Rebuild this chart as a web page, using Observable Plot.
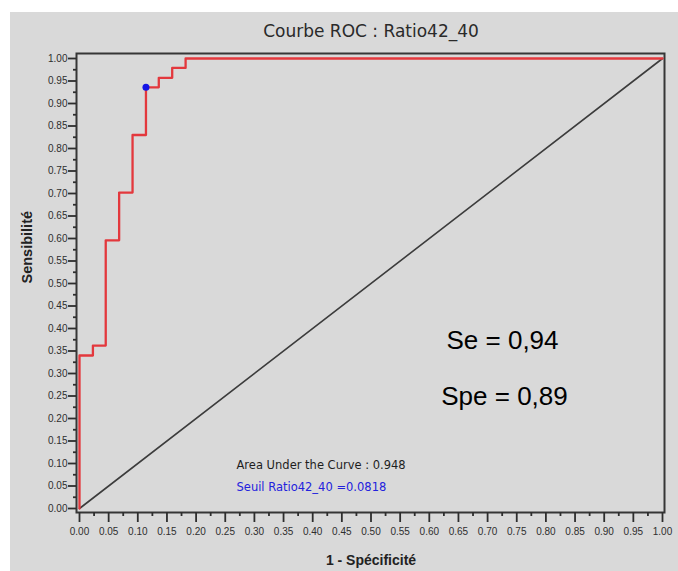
<!DOCTYPE html>
<html>
<head>
<meta charset="utf-8">
<script src="https://cdn.jsdelivr.net/npm/d3@7"></script>
<script src="https://cdn.jsdelivr.net/npm/@observablehq/plot@0.6"></script>
<style>
  html, body { margin: 0; padding: 0; background: #ffffff; }
  #bg { position: absolute; left: 10px; top: 12px; width: 668px; height: 559px; background: #d9d9d9; }
  #chart { position: absolute; left: 0; top: 0; }
</style>
</head>
<body>
<div id="bg"></div>
<div id="chart"></div>
<script>
// ROC curve points (1 - specificity, sensitivity)
const fpr = [0, 0, 0.023, 0.045, 0.068, 0.091, 0.114, 0.136, 0.159, 0.182, 1];
const tpr = [0, 0.34, 0.362, 0.596, 0.702, 0.83, 0.936, 0.957, 0.979, 1, 1];
// optimal threshold point
const optFpr = [0.114];
const optTpr = [0.936];
// chance diagonal
const diagX = [0, 1];
const diagY = [0, 1];
// tick labels
const majorTicks = [0, 0.05, 0.10, 0.15, 0.20, 0.25, 0.30, 0.35, 0.40, 0.45, 0.50,
                    0.55, 0.60, 0.65, 0.70, 0.75, 0.80, 0.85, 0.90, 0.95, 1.00];
const minorTicks = [0.025, 0.075, 0.125, 0.175, 0.225, 0.275, 0.325, 0.375, 0.425, 0.475,
                    0.525, 0.575, 0.625, 0.675, 0.725, 0.775, 0.825, 0.875, 0.925, 0.975];
// texts
const title = "Courbe ROC : Ratio42_40";
const xLabel = "1 - Spécificité";
const yLabel = "Sensibilité";
const seText = "Se = 0,94";
const speText = "Spe = 0,89";
const aucText = "Area Under the Curve : 0.948";
const seuilText = "Seuil Ratio42_40 =0.0818";

const roc = fpr.map((x, i) => ({x, y: tpr[i]}));
const opt = optFpr.map((x, i) => ({x, y: optTpr[i]}));
const diag = diagX.map((x, i) => ({x, y: diagY[i]}));
const fmt = d3.format(".2f");
const axisColor = "#2e2e2e";

const chart = Plot.plot({
  width: 678,
  height: 571,
  marginLeft: 79,
  marginRight: 16,
  marginTop: 58,
  marginBottom: 63,
  style: {background: "transparent", fontFamily: "Liberation Sans, Arial, sans-serif"},
  x: {domain: [0, 1]},
  y: {domain: [0, 1]},
  marks: [
    Plot.frame({stroke: "#363636", strokeWidth: 2, insetLeft: -3, insetRight: -2, insetTop: -5, insetBottom: -4}),
    // Y axis
    Plot.axisY({ticks: majorTicks, tickFormat: fmt, tickSize: 8, tickPadding: 1, dx: -3,
                fontSize: 10, fill: axisColor, stroke: axisColor, strokeWidth: 1.8, label: null}),
    Plot.axisY({ticks: minorTicks, tickFormat: null, text: null, tickSize: 3, dx: -3,
                stroke: axisColor, strokeWidth: 1.8, label: null}),
    // X axis
    Plot.axisX({ticks: majorTicks, tickFormat: fmt, tickSize: 10, tickPadding: 5, dy: 4,
                fontSize: 10, fill: axisColor, stroke: axisColor, strokeWidth: 1.8, label: null}),
    Plot.axisX({ticks: minorTicks, text: null, tickSize: 4, dy: 4,
                stroke: axisColor, strokeWidth: 1.8, label: null}),
    // diagonal
    Plot.line(diag, {x: "x", y: "y", stroke: "#3c3c3c", strokeWidth: 1.6}),
    // ROC curve
    Plot.line(roc, {x: "x", y: "y", curve: "step-after", stroke: "#e3383d", strokeWidth: 2.3}),
    Plot.dot(opt, {x: "x", y: "y", r: 3.5, fill: "#1414e6", stroke: "none"}),
    // title and axis labels
    Plot.text([title], {text: d => d, frameAnchor: "top", dy: -27, lineAnchor: "middle",
                        fontSize: 17, fill: "#2a2a2a", fontFamily: "DejaVu Sans, sans-serif"}),
    Plot.text([xLabel], {text: d => d, frameAnchor: "bottom", dy: 52, lineAnchor: "middle",
                         fontSize: 14, fontWeight: "bold", fill: "#222"}),
    Plot.text([yLabel], {text: d => d, frameAnchor: "left", dx: -52, rotate: -90, lineAnchor: "middle",
                         fontSize: 14.5, fontWeight: "bold", fill: "#222"}),
    // annotations
    Plot.text([seText], {text: d => d, frameAnchor: "top-left", dx: 423, dy: 282, textAnchor: "middle",
                         lineAnchor: "middle", fontSize: 26, fill: "#000"}),
    Plot.text([speText], {text: d => d, frameAnchor: "top-left", dx: 425, dy: 338, textAnchor: "middle",
                          lineAnchor: "middle", fontSize: 26, fill: "#000"}),
    Plot.text([aucText], {text: d => d, frameAnchor: "top-left", dx: 157, dy: 407, textAnchor: "start",
                          lineAnchor: "middle", fontSize: 11.5, fill: "#1e1e1e", fontFamily: "DejaVu Sans, sans-serif"}),
    Plot.text([seuilText], {text: d => d, frameAnchor: "top-left", dx: 157, dy: 429, textAnchor: "start",
                            lineAnchor: "middle", fontSize: 11.5, fill: "#2222dd", fontFamily: "DejaVu Sans, sans-serif"})
  ]
});
document.getElementById("chart").appendChild(chart);
</script>
</body>
</html>
